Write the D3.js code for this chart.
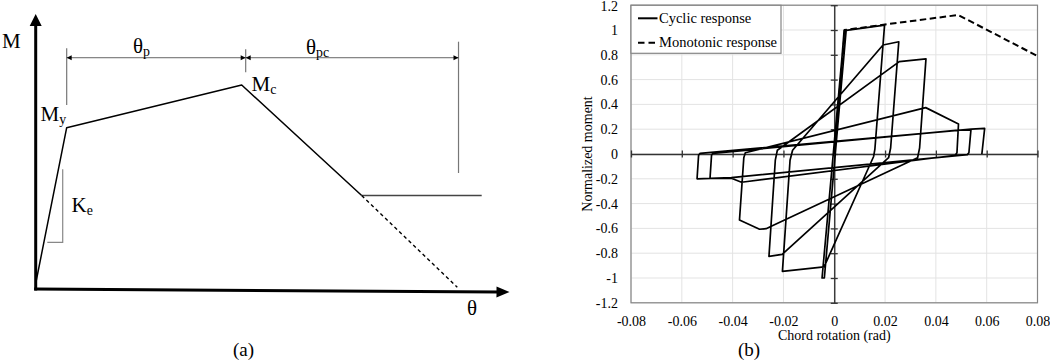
<!DOCTYPE html>
<html>
<head>
<meta charset="utf-8">
<script src="https://cdn.jsdelivr.net/npm/d3@7"></script>
<style>
  body { margin: 0; background: #fff; }
  svg { display: block; }
  text { font-family: "Liberation Serif", "Times New Roman", serif; }
</style>
</head>
<body>
<svg id="chart" width="1050" height="363"></svg>
<script>
const SERIF = '"Liberation Serif", "Times New Roman", serif'

// ---------- panel (a) : backbone sketch, normalised units ----------
const backboneTheta = [0, 0.0654, 0.4348, 0.688]
const backboneM = [0.02, 0.5865, 0.7418, 0.34]
const residualTheta = [0.688, 0.9413]
const residualM = [0.34, 0.34]
const extensionTheta = [0.688, 0.8898]
const extensionM = [0.34, 0.0062]
const markTheta = [0.0654, 0.4432, 0.8924]   // theta_y, theta_c, theta_u
const markTop = [0.8753, 0.8716, 0.8993]
const markBottom = [0.669, 0.788, 0.4218]
const dimM = 0.841
const keTheta = [0.0245, 0.057, 0.057]
const keM = [0.1698, 0.1698, 0.4353]

// ---------- panel (b) : hysteresis ----------
const rotTicks = [-0.08, -0.06, -0.04, -0.02, 0, 0.02, 0.04, 0.06, 0.08]
const momentTicks = [-1.2, -1, -0.8, -0.6, -0.4, -0.2, 0, 0.2, 0.4, 0.6, 0.8, 1, 1.2]

const cyclicRot = [
  0, 0.0039, 0.0047, -0.0039, -0.0048, 0.0040, 0.0198,
  0.0160, 0.0155, -0.0040, -0.0204,
  -0.0174, -0.0164, 0.0192, 0.0254,
  0.0222, 0.0214, -0.0205, -0.0257,
  -0.0232, -0.0224, 0.0256, 0.0361,
  0.0336, 0.0328, -0.0248, -0.0268, -0.0294, -0.0373,
  -0.0356, -0.0350, 0.0360, 0.0489,
  0.0483, 0.0476, -0.0365, -0.0405, -0.0489,
  -0.0483, -0.0478, 0.0489, 0.0538,
  0.0530, 0.0524, -0.0405, -0.0540,
  -0.0534, -0.0528, 0.0540, 0.0592,
  0.0581
]
const cyclicMom = [
  0, 1.0, 1.0, -1.0, -1.0, 0.995, 1.04,
  0.04, -0.02, -0.91, -0.947,
  -0.05, 0.03, 0.879, 0.905,
  0.05, -0.03, -0.81, -0.826,
  -0.05, 0.03, 0.745, 0.767,
  0.05, -0.03, -0.583, -0.602, -0.607, -0.532,
  -0.03, 0.01, 0.374, 0.242,
  0.01, -0.01, -0.228, -0.196, -0.197,
  -0.01, 0.005, 0.192, 0.195,
  0.01, -0.005, -0.19, -0.2,
  -0.01, 0.005, 0.2, 0.206,
  0
]
const monoRot = [0, 0.0042, 0.0212, 0.0488, 0.08]
const monoMom = [0, 1.0, 1.048, 1.121, 0.79]
const legendLabels = ['Cyclic response', 'Monotonic response']

const svg = d3.select('#chart')

function arrowHead(g, tx, ty, fx, fy, len, half) {
  const dx = tx - fx, dy = ty - fy, L = Math.hypot(dx, dy)
  const ux = dx / L, uy = dy / L
  const bx = tx - ux * len, by = ty - uy * len
  g.append('path')
    .attr('d', `M${tx},${ty}L${bx - uy * half},${by + ux * half}L${bx + uy * half},${by - ux * half}Z`)
    .attr('fill', '#000')
}

// ================= panel (a) =================
const xA = d3.scaleLinear().domain([0, 1]).range([35.7, 509.5])
const yA = d3.scaleLinear().domain([0, 1]).range([289, 14])
const ga = svg.append('g')
const lineA = (ts, ms) => d3.line()(ts.map((t, i) => [xA(t), yA(ms[i])]))

// extension lines (grey)
ga.selectAll('.mark').data(markTheta).join('line')
  .attr('class', 'mark')
  .attr('x1', d => xA(d)).attr('x2', d => xA(d))
  .attr('y1', (d, i) => yA(markTop[i])).attr('y2', (d, i) => yA(markBottom[i]))
  .attr('stroke', '#777').attr('stroke-width', 1.2)

// dimension lines
ga.append('line')
  .attr('x1', xA(markTheta[0])).attr('x2', xA(markTheta[2]))
  .attr('y1', yA(dimM)).attr('y2', yA(dimM))
  .attr('stroke', '#666').attr('stroke-width', 1)
arrowHead(ga, xA(markTheta[0]), yA(dimM), xA(markTheta[1]), yA(dimM), 5, 2.6)
arrowHead(ga, xA(markTheta[1]), yA(dimM), xA(markTheta[0]), yA(dimM), 5, 2.6)
arrowHead(ga, xA(markTheta[1]), yA(dimM), xA(markTheta[2]), yA(dimM), 5, 2.6)
arrowHead(ga, xA(markTheta[2]), yA(dimM), xA(markTheta[1]), yA(dimM), 5, 2.6)

// Ke bracket
ga.append('path').attr('d', lineA(keTheta, keM))
  .attr('fill', 'none').attr('stroke', '#888').attr('stroke-width', 1.2)

// backbone
ga.append('path').attr('d', lineA(backboneTheta, backboneM))
  .attr('fill', 'none').attr('stroke', '#000').attr('stroke-width', 1.5)
  .attr('stroke-linejoin', 'round')
ga.append('path').attr('d', lineA(residualTheta, residualM))
  .attr('fill', 'none').attr('stroke', '#444').attr('stroke-width', 1.5)
ga.append('path').attr('d', lineA(extensionTheta, extensionM))
  .attr('fill', 'none').attr('stroke', '#000').attr('stroke-width', 1.4)
  .attr('stroke-dasharray', '3.5,3')

// axes with arrows
ga.append('line')
  .attr('x1', xA(0)).attr('y1', yA(0)).attr('x2', xA(0)).attr('y2', yA(0.96))
  .attr('stroke', '#000').attr('stroke-width', 3).attr('stroke-linecap', 'square')
ga.append('line')
  .attr('x1', xA(0)).attr('y1', yA(0)).attr('x2', xA(0.975)).attr('y2', yA(-0.0107))
  .attr('stroke', '#000').attr('stroke-width', 3).attr('stroke-linecap', 'square')
arrowHead(ga, xA(0), yA(1), xA(0), yA(0), 12, 6)
arrowHead(ga, xA(1), yA(-0.011), xA(0), yA(0), 13, 5.5)

// labels
function subLabel(g, x, y, main, sub, size) {
  const t = g.append('text').attr('x', x).attr('y', y)
    .attr('font-family', SERIF).attr('font-size', size).attr('fill', '#000')
  t.append('tspan').text(main)
  if (sub) t.append('tspan').attr('font-size', size * 0.66).attr('dy', 3).text(sub)
}
subLabel(ga, 2, 47.5, 'M', null, 21)
subLabel(ga, 133, 53, 'θ', 'p', 21)
subLabel(ga, 306, 54, 'θ', 'pc', 21)
subLabel(ga, 40.5, 120.5, 'M', 'y', 21)
subLabel(ga, 251.5, 90.5, 'M', 'c', 21)
subLabel(ga, 71.5, 212, 'K', 'e', 21)
subLabel(ga, 467, 315, 'θ', null, 21)
ga.append('text').attr('x', 243.5).attr('y', 356).attr('text-anchor', 'middle')
  .attr('font-family', SERIF).attr('font-size', 19).text('(a)')

// ================= panel (b) =================
const x = d3.scaleLinear().domain([-0.08, 0.08]).range([631, 1037.5])
const y = d3.scaleLinear().domain([-1.2, 1.2]).range([302.8, 5.2])
const fmt = d => d === 0 ? '0' : String(+d.toFixed(2))
const gb = svg.append('g')

// grid
gb.append('g').selectAll('line').data(rotTicks).join('line')
  .attr('x1', d => x(d)).attr('x2', d => x(d))
  .attr('y1', y(-1.2)).attr('y2', y(1.2))
  .attr('stroke', '#e3e3e3').attr('stroke-width', 1)
gb.append('g').selectAll('line').data(momentTicks).join('line')
  .attr('x1', x(-0.08)).attr('x2', x(0.08))
  .attr('y1', d => y(d)).attr('y2', d => y(d))
  .attr('stroke', '#e3e3e3').attr('stroke-width', 1)

// plot frame
gb.append('rect')
  .attr('x', x(-0.08)).attr('y', y(1.2))
  .attr('width', x(0.08) - x(-0.08)).attr('height', y(-1.2) - y(1.2))
  .attr('fill', 'none').attr('stroke', '#858585').attr('stroke-width', 1.2)

// tick labels
const xLab = gb.append('g').attr('transform', `translate(0,${y(-1.2)})`)
  .call(d3.axisBottom(x).tickValues(rotTicks).tickFormat(fmt).tickSize(0).tickPadding(13))
xLab.select('.domain').remove()
xLab.attr('font-size', 14).attr('font-family', SERIF)
xLab.selectAll('text').attr('fill', '#000').attr('font-family', SERIF)

const yLab = gb.append('g').attr('transform', `translate(${x(-0.08)},0)`)
  .call(d3.axisLeft(y).tickValues(momentTicks).tickFormat(fmt).tickSize(0).tickPadding(13))
yLab.select('.domain').remove()
yLab.attr('font-size', 14).attr('font-family', SERIF)
yLab.selectAll('text').attr('fill', '#000').attr('font-family', SERIF)
yLab.selectAll('text').filter(d => d === 1.2).attr('dy', '0.38em')

// zero axes with crossing ticks
const x0 = gb.append('g').attr('transform', `translate(0,${y(0)})`)
  .call(d3.axisBottom(x).tickValues(rotTicks).tickFormat('').tickSizeOuter(0).tickSizeInner(3.5))
x0.attr('color', '#333')
x0.select('.domain').attr('stroke-width', 1.4)
x0.selectAll('.tick line').attr('y1', -3.5).attr('stroke-width', 1.3)

const y0 = gb.append('g').attr('transform', `translate(${x(0)},0)`)
  .call(d3.axisLeft(y).tickValues(momentTicks).tickFormat('').tickSizeOuter(0).tickSizeInner(3.5))
y0.attr('color', '#333')
y0.select('.domain').attr('stroke-width', 1.4)
y0.selectAll('.tick line').attr('x1', 3.5).attr('stroke-width', 1.3)

// curves
const cyclicLine = d3.line().x(i => x(cyclicRot[i])).y(i => y(cyclicMom[i]))
const monoLine = d3.line().x(i => x(monoRot[i])).y(i => y(monoMom[i]))

gb.append('path').attr('d', monoLine(d3.range(monoRot.length)))
  .attr('fill', 'none').attr('stroke', '#000').attr('stroke-width', 2)
  .attr('stroke-dasharray', '6.5,3.5')
gb.append('path').attr('d', cyclicLine(d3.range(cyclicRot.length)))
  .attr('fill', 'none').attr('stroke', '#000').attr('stroke-width', 1.7)
  .attr('stroke-linejoin', 'round')

// legend
const leg = gb.append('g')
leg.append('rect').attr('x', 631).attr('y', 5.3).attr('width', 150).attr('height', 48)
  .attr('fill', '#fff').attr('stroke', '#858585').attr('stroke-width', 1.2)
leg.selectAll('.li').data(legendLabels).join('line').attr('class', 'li')
  .attr('x1', 638).attr('x2', 657.5)
  .attr('y1', (d, i) => 18.3 + i * 24.4).attr('y2', (d, i) => 18.3 + i * 24.4)
  .attr('stroke', '#000').attr('stroke-width', 2)
  .attr('stroke-dasharray', (d, i) => i ? '6.5,4' : null)
leg.selectAll('.lt').data(legendLabels).join('text').attr('class', 'lt')
  .attr('x', 659).attr('y', (d, i) => 22.8 + i * 24.4)
  .attr('font-family', SERIF).attr('font-size', 14.5).text(d => d)

// axis titles
gb.append('text').attr('x', x(0)).attr('y', 340).attr('text-anchor', 'middle')
  .attr('font-family', SERIF).attr('font-size', 14).text('Chord rotation (rad)')
gb.append('text').attr('transform', `translate(591.5,${y(0)}) rotate(-90)`)
  .attr('text-anchor', 'middle').attr('font-family', SERIF).attr('font-size', 14)
  .text('Normalized moment')
gb.append('text').attr('x', 749).attr('y', 356).attr('text-anchor', 'middle')
  .attr('font-family', SERIF).attr('font-size', 19).text('(b)')
</script>
</body>
</html>
